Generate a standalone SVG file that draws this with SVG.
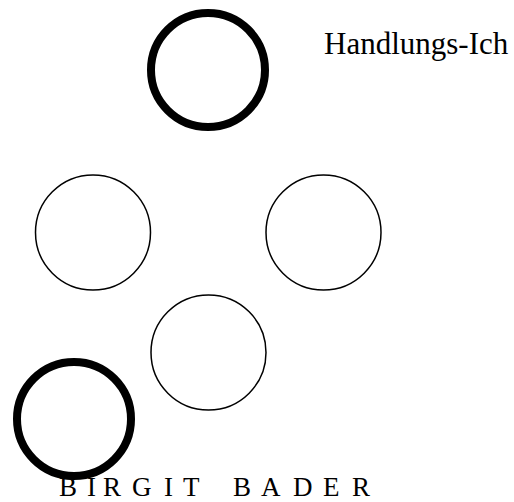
<svg xmlns="http://www.w3.org/2000/svg" width="514" height="502" viewBox="0 0 514 502">
<style>
.thick{fill:none;stroke:#000;stroke-width:8}
.thin{fill:none;stroke:#000;stroke-width:1.5}
.t{font-family:"Liberation Serif","Times New Roman",serif;fill:#000}
</style>
<rect width="514" height="502" fill="#fff"/>
<g id="handlungs-ich">
<circle class="thick" cx="208" cy="70" r="57"/>
<text class="t" x="324" y="54" font-size="31">Handlungs-Ich</text>
</g>
<g id="left"><circle class="thin" cx="93" cy="232.5" r="57.5"/></g>
<g id="right"><circle class="thin" cx="323.5" cy="232.5" r="57.5"/></g>
<g id="bottom"><circle class="thin" cx="208.5" cy="352.5" r="57.5"/></g>
<g id="lower-left"><circle class="thick" cx="74" cy="419" r="57"/></g>
<g id="connectors"></g>
<text class="t" font-size="27" y="496" x="59 87 103 132 164 183 233 261 293 323 352">BIRGITBADER</text>
</svg>
